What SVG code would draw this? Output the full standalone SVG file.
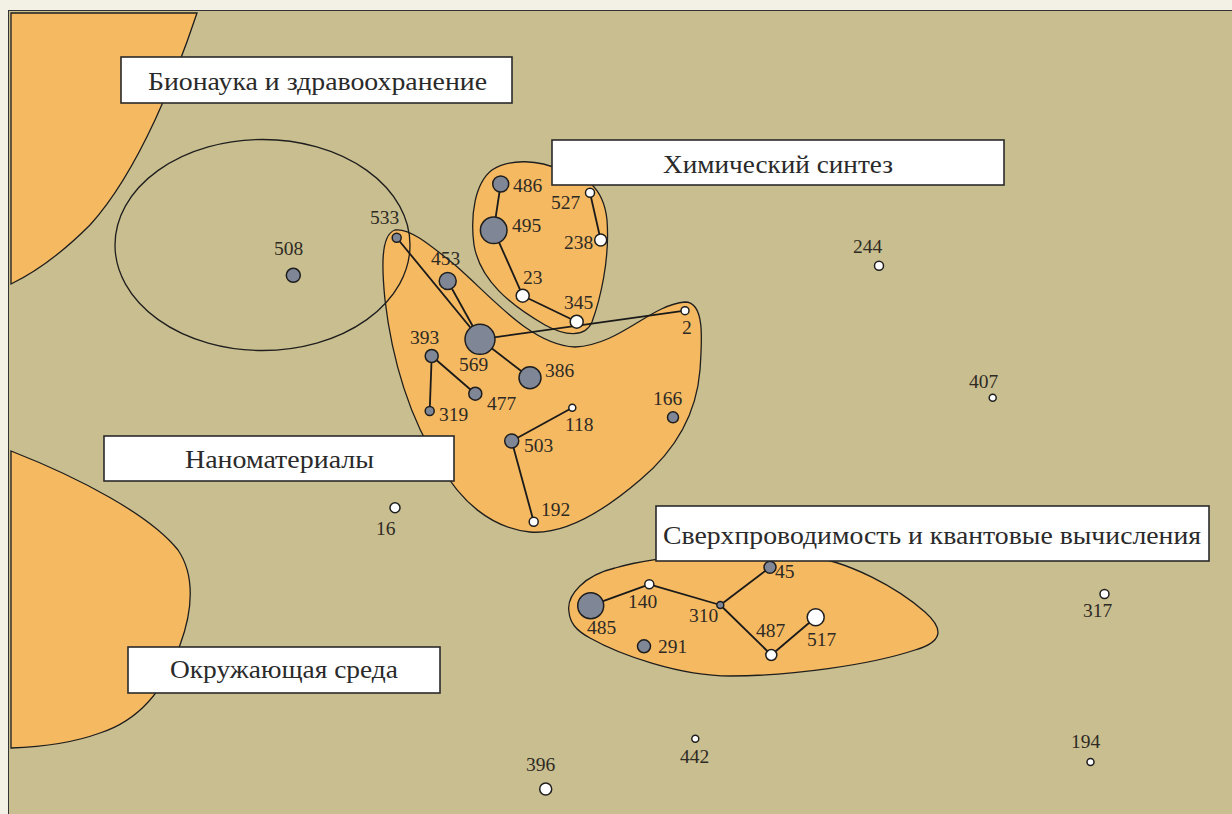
<svg xmlns="http://www.w3.org/2000/svg" width="1232" height="814" viewBox="0 0 1232 814">
<defs>
<style>
.blob{fill:#f5b961;stroke:#1e1e1e;stroke-width:1.3}
.box{fill:#ffffff;stroke:#2a2a2a;stroke-width:1.6}
.bt{font-family:"Liberation Serif","DejaVu Serif",serif;font-size:26px;fill:#2a2a2a}
.lb{font-family:"Liberation Serif","DejaVu Serif",serif;font-size:19.5px;fill:#2e2a24}
.g{fill:#7f8796;stroke:#1e1e1e;stroke-width:1.5}
.w{fill:#ffffff;stroke:#1e1e1e;stroke-width:1.5}
.e{stroke:#1a1a1a;stroke-width:1.8;fill:none}
</style>
</defs>
<rect x="0" y="0" width="1232" height="814" fill="#f3f0e5"/>
<rect x="8.5" y="10.5" width="1230" height="810" fill="#c9be8f" stroke="#333" stroke-width="1"/>
<g id="areas">
<path class="blob" d="M11,13 L197,13 C178,70 140,170 90,225 C65,250 40,270 11,284 Z"/>
<path class="blob" d="M11,451 C80,478 150,515 178,550 C195,575 193,610 180,645 C165,690 140,720 100,733 C70,744 40,747 11,748 Z"/>
<path id="area-chem" class="blob" d="M560,170 C540,160 510,158 492,170 C475,183 470,215 474,245 C480,280 510,305 545,325 C565,336 585,338 592,322 C600,300 610,260 607,220 C605,200 598,190 590,183 Z"/>
<path id="area-nano" class="blob" d="M395,230 C410,228 430,245 455,265 C490,295 530,345 575,347 C620,345 650,305 685,302 C705,302 702,340 700,370 C696,420 670,455 640,480 C605,510 565,535 530,532 C490,528 460,500 440,465 C410,420 392,360 385,300 C382,270 380,235 395,230 Z"/>
<path id="area-super" class="blob" d="M569,612 C566,595 585,575 615,568 C660,555 740,550 800,555 C850,560 900,590 925,612 C945,630 942,642 915,650 C870,665 790,676 730,676 C680,676 620,655 590,638 C575,630 570,622 569,612 Z"/>
<ellipse cx="262.5" cy="245" rx="147.5" ry="105.5" fill="none" stroke="#1e1e1e" stroke-width="1.3"/>
</g>
<g id="connectors">
<line class="e" x1="500.7" y1="184" x2="493.7" y2="230.3"/>
<line class="e" x1="493.7" y1="230.3" x2="522.7" y2="295.7"/>
<line class="e" x1="522.7" y1="295.7" x2="576.7" y2="321.7"/>
<line class="e" x1="590" y1="192.7" x2="600.7" y2="240"/>
<line class="e" x1="396.7" y1="237.7" x2="480" y2="339.3"/>
<line class="e" x1="447.7" y1="281" x2="480" y2="339.3"/>
<line class="e" x1="480" y1="339.3" x2="530" y2="377.7"/>
<line class="e" x1="480" y1="339.3" x2="685" y2="310.7"/>
<line class="e" x1="431.7" y1="356" x2="429.7" y2="411"/>
<line class="e" x1="431.7" y1="356" x2="475.3" y2="393.7"/>
<line class="e" x1="511.7" y1="441" x2="572.3" y2="407.7"/>
<line class="e" x1="511.7" y1="441" x2="533.7" y2="521.7"/>
<line class="e" x1="590.7" y1="605.7" x2="649.3" y2="584.3"/>
<line class="e" x1="649.3" y1="584.3" x2="720.3" y2="605"/>
<line class="e" x1="720.3" y1="605" x2="770" y2="567.3"/>
<line class="e" x1="720.3" y1="605" x2="771.3" y2="655"/>
<line class="e" x1="771.3" y1="655" x2="815.7" y2="617.3"/>
</g>
<g id="nodes">
<g id="n486"><circle class="g" cx="500.7" cy="184" r="8"/><text class="lb" x="513" y="192">486</text></g>
<g id="n495"><circle class="g" cx="493.7" cy="230.3" r="13.3"/><text class="lb" x="512" y="232">495</text></g>
<g id="n527"><circle class="w" cx="590" cy="192.7" r="4.5"/><text class="lb" x="551" y="209">527</text></g>
<g id="n238"><circle class="w" cx="600.7" cy="240" r="6"/><text class="lb" x="564" y="249">238</text></g>
<g id="n23"><circle class="w" cx="522.7" cy="295.7" r="6.5"/><text class="lb" x="523" y="284">23</text></g>
<g id="n345"><circle class="w" cx="576.7" cy="321.7" r="6.5"/><text class="lb" x="564" y="309">345</text></g>
<g id="n2"><circle class="w" cx="685" cy="310.7" r="4"/><text class="lb" x="682" y="334">2</text></g>
<g id="n533"><circle class="g" cx="396.7" cy="237.7" r="4.5"/><text class="lb" x="370" y="224">533</text></g>
<g id="n453"><circle class="g" cx="447.7" cy="281" r="8.5"/><text class="lb" x="431" y="265">453</text></g>
<g id="n569"><circle class="g" cx="480" cy="339.3" r="15"/><text class="lb" x="459" y="371">569</text></g>
<g id="n386"><circle class="g" cx="530" cy="377.7" r="11"/><text class="lb" x="545" y="377">386</text></g>
<g id="n393"><circle class="g" cx="431.7" cy="356" r="6.5"/><text class="lb" x="410" y="344">393</text></g>
<g id="n477"><circle class="g" cx="475.3" cy="393.7" r="6.5"/><text class="lb" x="487" y="410">477</text></g>
<g id="n319"><circle class="g" cx="429.7" cy="411" r="4.5"/><text class="lb" x="439" y="421">319</text></g>
<g id="n118"><circle class="w" cx="572.3" cy="407.7" r="3.5"/><text class="lb" x="565" y="431">118</text></g>
<g id="n503"><circle class="g" cx="511.7" cy="441" r="7"/><text class="lb" x="524" y="452">503</text></g>
<g id="n166"><circle class="g" cx="673" cy="417.3" r="5.5"/><text class="lb" x="653" y="405">166</text></g>
<g id="n192"><circle class="w" cx="533.7" cy="521.7" r="4.5"/><text class="lb" x="541" y="516">192</text></g>
<g id="n485"><circle class="g" cx="590.7" cy="605.7" r="13"/><text class="lb" x="587" y="634">485</text></g>
<g id="n140"><circle class="w" cx="649.3" cy="584.3" r="4.5"/><text class="lb" x="628" y="608">140</text></g>
<g id="n310"><circle class="g" cx="720.3" cy="605" r="3.5"/><text class="lb" x="689" y="622">310</text></g>
<g id="n45"><circle class="g" cx="770" cy="567.3" r="6"/><text class="lb" x="775" y="578">45</text></g>
<g id="n487"><circle class="w" cx="771.3" cy="655" r="5.5"/><text class="lb" x="756" y="637">487</text></g>
<g id="n517"><circle class="w" cx="815.7" cy="617.3" r="8.5"/><text class="lb" x="807" y="646">517</text></g>
<g id="n291"><circle class="g" cx="644" cy="646.3" r="6.5"/><text class="lb" x="658" y="653">291</text></g>
<g id="n508"><circle class="g" cx="293.3" cy="275.3" r="7"/><text class="lb" x="274" y="255">508</text></g>
<g id="n244"><circle class="w" cx="879" cy="265.7" r="4.5"/><text class="lb" x="853" y="253">244</text></g>
<g id="n407"><circle class="w" cx="992.7" cy="397.7" r="3.5"/><text class="lb" x="969" y="388">407</text></g>
<g id="n16"><circle class="w" cx="395" cy="507.7" r="5"/><text class="lb" x="376" y="535">16</text></g>
<g id="n317"><circle class="w" cx="1104.5" cy="594" r="4.5"/><text class="lb" x="1083" y="617">317</text></g>
<g id="n194"><circle class="w" cx="1090.5" cy="762" r="3.5"/><text class="lb" x="1071" y="748">194</text></g>
<g id="n442"><circle class="w" cx="695.3" cy="738.7" r="3.5"/><text class="lb" x="680" y="763">442</text></g>
<g id="n396"><circle class="w" cx="545.7" cy="789" r="6"/><text class="lb" x="526" y="771">396</text></g>
</g>
<g id="labels">
<g id="l-bio"><rect class="box" x="121" y="57" width="391" height="46"/><text class="bt" x="148" y="90" textLength="339" lengthAdjust="spacingAndGlyphs">Бионаука и здравоохранение</text></g>
<g id="l-chem"><rect class="box" x="552" y="140" width="452" height="45"/><text class="bt" x="663" y="173" textLength="230" lengthAdjust="spacingAndGlyphs">Химический синтез</text></g>
<g id="l-nano"><rect class="box" x="104" y="436" width="350" height="45"/><text class="bt" x="185" y="468" textLength="189" lengthAdjust="spacingAndGlyphs">Наноматериалы</text></g>
<g id="l-env"><rect class="box" x="128" y="647" width="312" height="46"/><text class="bt" x="170" y="678" textLength="228" lengthAdjust="spacingAndGlyphs">Окружающая среда</text></g>
<g id="l-super"><rect class="box" x="656" y="506" width="553" height="55"/><text class="bt" x="663" y="544" textLength="538" lengthAdjust="spacingAndGlyphs">Сверхпроводимость и квантовые вычисления</text></g>
</g>
</svg>
